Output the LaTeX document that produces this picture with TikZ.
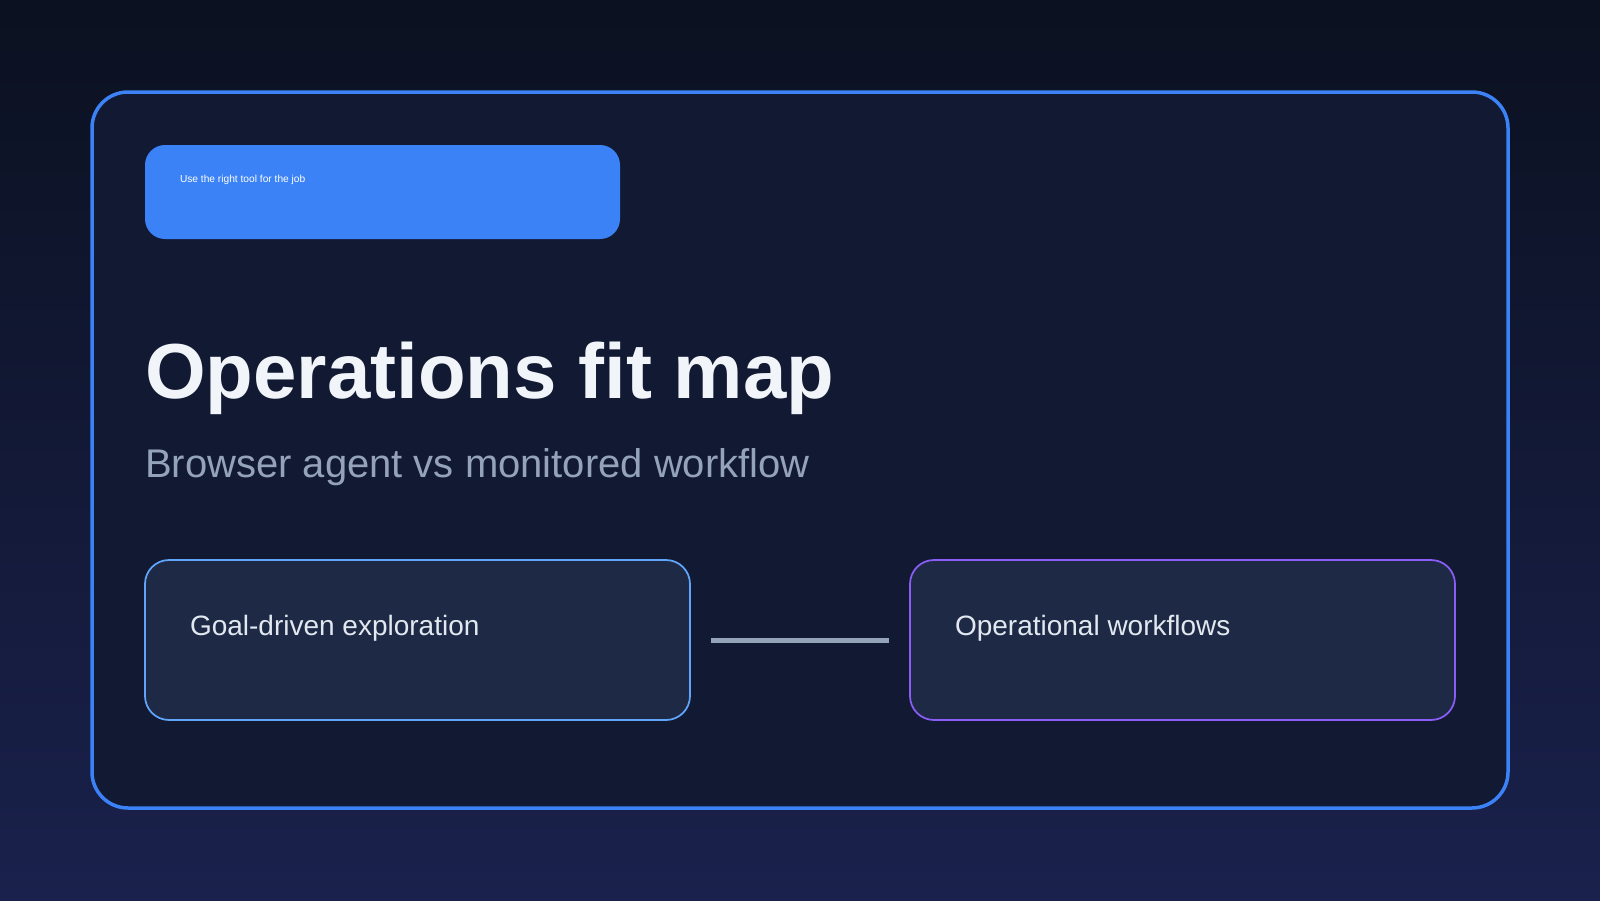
\documentclass[tikz,border=0pt]{standalone}
\usepackage{fontspec}
\setmainfont{Liberation Sans}
\definecolor{bgtop}{HTML}{0B1120}
\definecolor{bgbot}{HTML}{1A214C}
\definecolor{framefill}{HTML}{121933}
\definecolor{framestroke}{HTML}{3B82F6}
\definecolor{pillfill}{HTML}{3B82F6}
\definecolor{boxfill}{HTML}{1E2A45}
\definecolor{leftstroke}{HTML}{60A5FA}
\definecolor{rightstroke}{HTML}{8B5CF6}
\definecolor{conncol}{HTML}{94A3B8}
\definecolor{titlecol}{HTML}{F1F5F9}
\definecolor{subcol}{HTML}{94A3B8}
\definecolor{boxtext}{HTML}{E2E8F0}
\tikzset{
  framebox/.style={draw=framestroke, fill=framefill, line width=3.5pt, rounded corners=36pt,
    minimum width=1416pt, minimum height=716pt, inner sep=0pt},
  pillbox/.style={fill=pillfill, rounded corners=20pt, minimum width=475pt, minimum height=94pt, inner sep=0pt},
  cardbox/.style={fill=boxfill, line width=1.75pt, rounded corners=24pt,
    minimum width=545pt, minimum height=160pt, inner sep=0pt},
  txt/.style={anchor=base west, inner sep=0pt, outer sep=0pt},
  conn/.style={draw=conncol, line width=5pt, shorten <=20pt, shorten >=20pt},
}
\begin{document}
\begin{tikzpicture}[x=1pt,y=-1pt]
\useasboundingbox (0,0) rectangle (1600,900);
\shade[top color=bgtop, bottom color=bgbot] (0,0) rectangle (1600,900);
\node[framebox] (frame) at (800,450) {};
\node[pillbox] (pill) at (382.5,192) {};
\node[txt, text=white, font=\fontsize{10.2}{12}\selectfont] (pilltext) at (180,182) {Use the right tool for the job};
\node[txt, text=titlecol, font=\fontsize{78}{90}\selectfont\bfseries] (title) at (145,398) {Operations fit map};
\node[txt, text=subcol, font=\fontsize{40}{48}\selectfont] (subtitle) at (145,477) {Browser agent vs monitored workflow};
\node[cardbox, draw=leftstroke] (lbox) at (417.5,640) {};
\node[cardbox, draw=rightstroke] (rbox) at (1182.5,640) {};
\node[txt, text=boxtext, font=\fontsize{28}{34}\selectfont] (ltext) at (190,635) {Goal-driven exploration};
\node[txt, text=boxtext, font=\fontsize{28}{34}\selectfont] (rtext) at (955,635) {Operational workflows};
\draw[conn] (lbox) -- (rbox);
\end{tikzpicture}
\end{document}
